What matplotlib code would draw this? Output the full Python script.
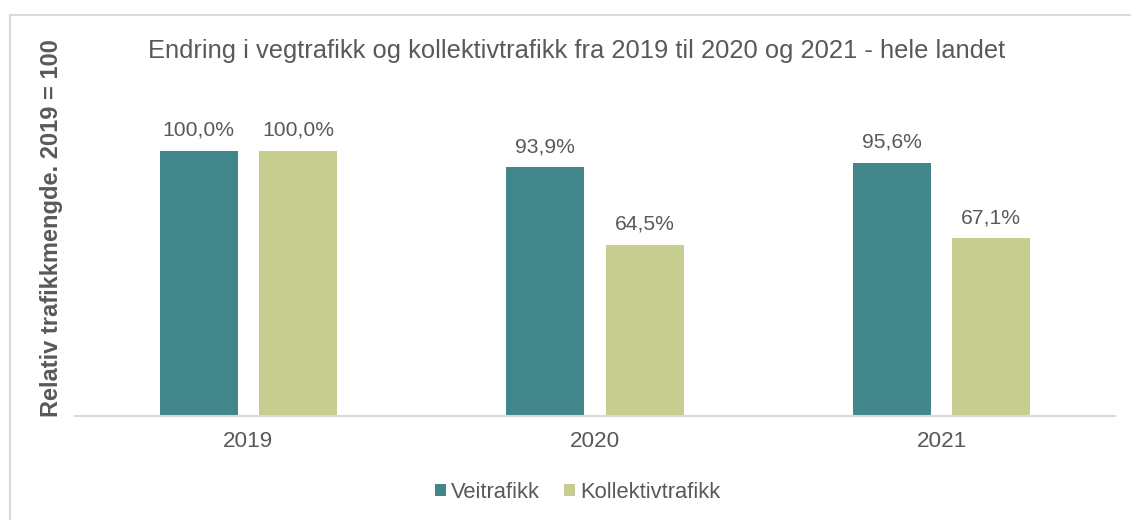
import matplotlib.pyplot as plt
from matplotlib.patches import Rectangle
import numpy as np

plt.rcParams['font.family'] = ['Liberation Sans', 'DejaVu Sans']

years = ['2019', '2020', '2021']
veitrafikk = [100.0, 93.9, 95.6]
kollektiv = [100.0, 64.5, 67.1]
series_names = ['Veitrafikk', 'Kollektivtrafikk']

teal = '#40868A'
green = '#C7CD8E'
grey_txt = '#595959'

fig = plt.figure(figsize=(11.31, 5.2), dpi=100)
# outer chart border
fig.patches.append(Rectangle((10 / 1131, -0.1), 1.2, (520 - 15) / 520 + 0.1,
                             transform=fig.transFigure, fill=False,
                             edgecolor='#D9D9D9', linewidth=1.5))

ax = fig.add_axes([75 / 1131, (520 - 416) / 520, 1040 / 1131, 318 / 520])

x = np.arange(len(years))
w = 0.225
off = 0.143
b1 = ax.bar(x - off, veitrafikk, w, color=teal, label=series_names[0])
b2 = ax.bar(x + off, kollektiv, w, color=green, label=series_names[1])

for bars, vals in [(b1, veitrafikk), (b2, kollektiv)]:
    for bar, v in zip(bars, vals):
        ax.annotate(f'{v:.1f}%'.replace('.', ','),
                    (bar.get_x() + bar.get_width() / 2, v),
                    xytext=(0, 8), textcoords='offset points',
                    ha='center', va='bottom', fontsize=15.2, color=grey_txt)

ax.set_xlim(-0.5, 2.5)
ax.set_ylim(0, 120)
ax.set_xticks(x)
ax.set_xticklabels(years, fontsize=16.2, color=grey_txt)
ax.tick_params(axis='x', length=0, pad=11)
ax.set_yticks([])
for s in ['top', 'right', 'left']:
    ax.spines[s].set_visible(False)
ax.spines['bottom'].set_color('#D9D9D9')
ax.spines['bottom'].set_linewidth(1.5)

fig.text(577 / 1131, 1 - 51 / 520,
         'Endring i vegtrafikk og kollektivtrafikk fra 2019 til 2020 og 2021 - hele landet',
         ha='center', va='center', fontsize=18.4, color=grey_txt)
fig.text(52 / 1131, 1 - 228 / 520, 'Relativ trafikkmengde. 2019 = 100',
         rotation=90, ha='center', va='center', fontsize=17,
         fontweight='bold', color=grey_txt)

fig.legend(handles=[b1, b2], labels=series_names, loc='center',
           bbox_to_anchor=(578 / 1131, 1 - 492 / 520), ncol=2, frameon=False,
           fontsize=15.8, labelcolor=grey_txt, handlelength=0.48, handleheight=0.48,
           handletextpad=0.25, columnspacing=1.1)

fig.savefig('out.png', dpi=100)
